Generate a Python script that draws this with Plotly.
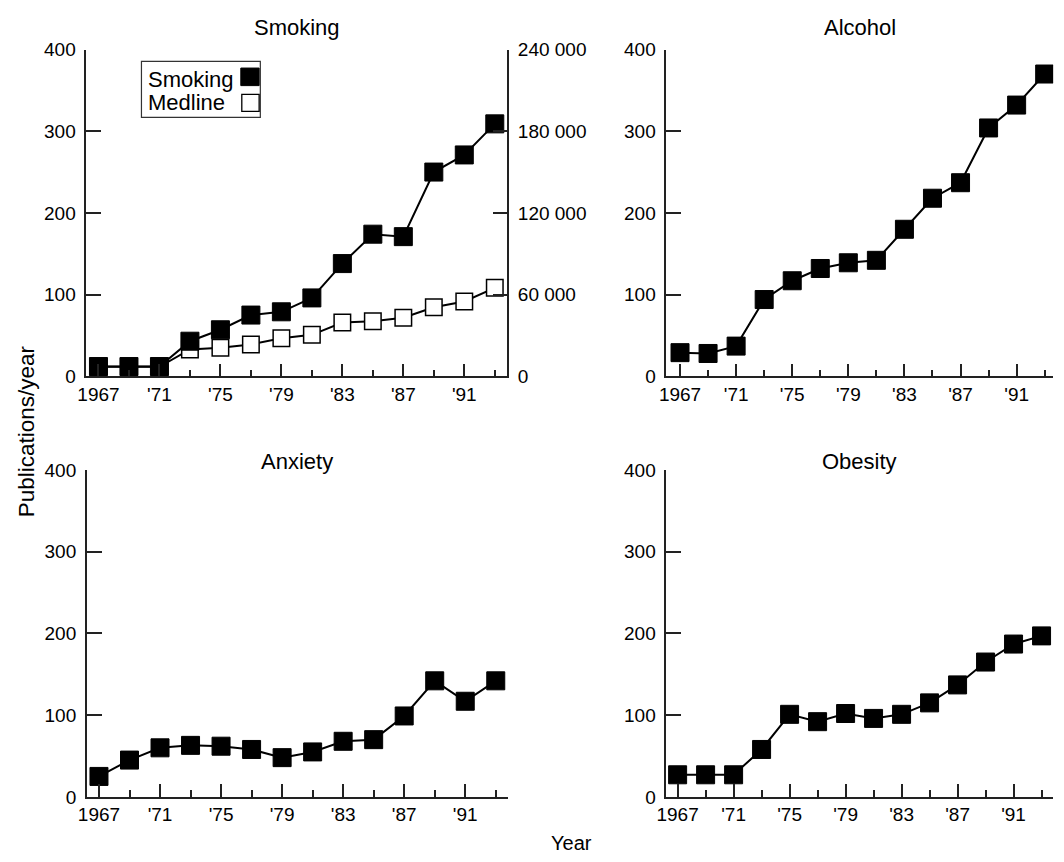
import plotly.graph_objects as go

years = [1967, 1969, 1971, 1973, 1975, 1977, 1979, 1981, 1983, 1985, 1987, 1989, 1991, 1993]
smoking = [12, 12, 12, 43, 57, 75, 79, 96, 138, 174, 171, 250, 271, 309]
medline = [7000, 7000, 7000, 19800, 21000, 23400, 28000, 30500, 39500, 40500, 43000, 50700, 55000, 65000]
alcohol = [29, 28, 37, 94, 117, 132, 139, 142, 180, 218, 237, 304, 332, 370]
anxiety = [25, 45, 60, 63, 62, 58, 48, 55, 68, 70, 99, 142, 117, 142]
obesity = [27, 27, 27, 58, 101, 92, 102, 96, 101, 115, 137, 165, 187, 197]

major_years = [1967, 1971, 1975, 1979, 1983, 1987, 1991]
major_labels = ["1967", "'71", "'75", "'79", "'83", "'87", "'91"]
minor_years = [1969, 1973, 1977, 1981, 1985, 1989, 1993]
left_ticks = [0, 100, 200, 300, 400]
right_ticks = [0, 60000, 120000, 180000, 240000]
right_labels = ["0", "60 000", "120 000", "180 000", "240 000"]

W, H = 1064, 862
FONT = "Liberation Sans, Arial, Helvetica, sans-serif"
AX = "#222"

def px(x):
    return x / W

def py(y):
    return 1 - y / H

line = dict(color="black", width=2)
filled = dict(symbol="square", size=18, color="black", line=dict(color="black", width=1))
hollow = dict(symbol="square", size=16.5, color="white", line=dict(color="black", width=1.5))

fig = go.Figure()
fig.add_trace(go.Scatter(x=years, y=medline, xaxis="x", yaxis="y", mode="lines+markers",
                         line=line, marker=hollow, name="Medline"))
fig.add_trace(go.Scatter(x=years, y=smoking, xaxis="x", yaxis="y5", mode="lines+markers",
                         line=line, marker=filled, name="Smoking"))
fig.add_trace(go.Scatter(x=years, y=alcohol, xaxis="x2", yaxis="y2", mode="lines+markers",
                         line=line, marker=filled, name="Alcohol"))
fig.add_trace(go.Scatter(x=years, y=anxiety, xaxis="x3", yaxis="y3", mode="lines+markers",
                         line=line, marker=filled, name="Anxiety"))
fig.add_trace(go.Scatter(x=years, y=obesity, xaxis="x4", yaxis="y4", mode="lines+markers",
                         line=line, marker=filled, name="Obesity"))

tickfont = dict(family=FONT, size=19, color="black")

def xax(domain, rng, anchor):
    return dict(domain=domain, range=rng, anchor=anchor, showgrid=False, zeroline=False,
                showline=True, linecolor=AX, linewidth=1.5,
                tickmode="array", tickvals=major_years, ticktext=major_labels,
                ticks="inside", ticklen=13, tickwidth=1.5, tickcolor=AX,
                minor=dict(tickmode="array", tickvals=minor_years, ticks="inside",
                           ticklen=7, tickwidth=1.5, tickcolor=AX),
                tickfont=tickfont, ticklabelstandoff=0)

def yax(domain, anchor, **kw):
    d = dict(domain=domain, range=[0, 400], anchor=anchor, showgrid=False, zeroline=False,
             showline=True, linecolor=AX, linewidth=1.5,
             tickmode="array", tickvals=left_ticks,
             ticks="inside", ticklen=15, tickwidth=1.5, tickcolor=AX,
             tickfont=tickfont, ticklabelstandoff=5)
    d.update(kw)
    return d

top = [py(375.5), py(40.5)]
bot = [py(806.5), py(471.5)]

layout = dict(
    width=W, height=H, autosize=False,
    margin=dict(l=0, r=0, t=0, b=0),
    paper_bgcolor="white", plot_bgcolor="rgba(0,0,0,0)",
    showlegend=False,
    font=dict(family=FONT, color="black"),
    xaxis=xax([px(77), px(502)], [1966.2, 1993.82], "y"),
    xaxis2=xax([px(662.5), px(1053)], [1966.02, 1993.6], "y2"),
    xaxis3=xax([px(77.5), px(503)], [1966.2, 1993.82], "y3"),
    xaxis4=xax([px(662.5), px(1052.5)], [1966.19, 1993.79], "y4"),
    yaxis=yax(top, "x", side="right", range=[0, 240000], tickvals=right_ticks,
              ticktext=right_labels),
    yaxis5=yax(top, "x", side="left", overlaying="y"),
    yaxis2=yax(top, "x2"),
    yaxis3=yax(bot, "x3"),
    yaxis4=yax(bot, "x4"),
)
fig.update_layout(**layout)

titlefont = dict(family=FONT, size=22, color="black")
ann = [
    dict(text="Smoking", x=px(289.5), y=py(18), font=titlefont),
    dict(text="Alcohol", x=px(858), y=py(18), font=titlefont),
    dict(text="Anxiety", x=px(290), y=py(463), font=titlefont),
    dict(text="Obesity", x=px(858), y=py(463), font=titlefont),
    dict(text="Year", x=px(567), y=py(854), font=dict(family=FONT, size=20, color="black")),
    dict(text="Publications/year", x=px(17), y=py(432), textangle=-90,
         font=dict(family=FONT, size=22.5, color="black")),
]
for a in ann:
    fig.add_annotation(xref="paper", yref="paper", showarrow=False,
                       xanchor="center", yanchor="middle", **a)

# legend box (symbol to the right of the label, as in the original)
fig.add_shape(type="rect", xref="paper", yref="paper",
              x0=px(132.7), x1=px(252.7), y0=py(110), y1=py(52.7),
              line=dict(color="#333", width=1.2), fillcolor="white", layer="above")
fig.add_annotation(xref="paper", yref="paper", showarrow=False, xanchor="left", yanchor="middle",
                   x=px(137), y=py(71), text="Smoking", font=titlefont)
fig.add_annotation(xref="paper", yref="paper", showarrow=False, xanchor="left", yanchor="middle",
                   x=px(137), y=py(95), text="Medline", font=titlefont)
fig.add_shape(type="rect", xref="paper", yref="paper",
              x0=px(233), x1=px(251.5), y0=py(77.5), y1=py(59.5),
              line=dict(color="black", width=1), fillcolor="black", layer="above")
fig.add_shape(type="rect", xref="paper", yref="paper",
              x0=px(234), x1=px(251.5), y0=py(104), y1=py(86.5),
              line=dict(color="black", width=1.3), fillcolor="white", layer="above")

fig.write_html("out.html", config={"displayModeBar": False},
               post_script="document.body.style.margin='0';")
